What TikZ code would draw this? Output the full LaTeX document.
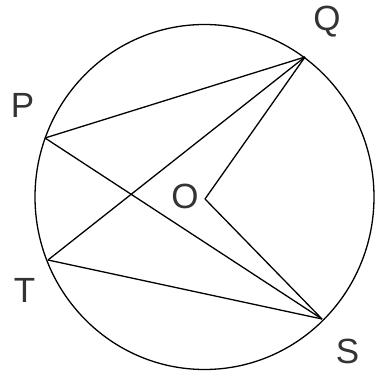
\documentclass[tikz,border=0pt]{standalone}
\usepackage{fontspec}
\setmainfont{Liberation Sans}
\begin{document}
\begin{tikzpicture}[x=1pt,y=-1pt,
  edge/.style={line width=1.3pt,black},
  lbl/.style={inner sep=0pt,text=black!80,font=\fontsize{35}{35}\selectfont}]
\useasboundingbox (0,0) rectangle (375,371);
\coordinate (C) at (204.5,197);
\coordinate (Q) at (305,57);
\coordinate (P) at (45,138);
\coordinate (T) at (48,260);
\coordinate (S) at (322,319);
\coordinate (O) at (205,199);
\draw[edge] (C) ellipse [x radius=169.5, y radius=172.5];
\draw[edge] (P) -- (Q);
\draw[edge] (P) -- (S);
\draw[edge] (T) -- (Q);
\draw[edge] (T) -- (S);
\draw[edge] (O) -- (Q);
\draw[edge] (O) -- (S);
\node[lbl] (lQ) at (327,21.5) {Q};
\node[lbl] (lP) at (22.5,105) {P};
\node[lbl] (lT) at (24.5,290) {T};
\node[lbl] (lS) at (347.5,351) {S};
\node[lbl] (lO) at (185,196) {O};
\end{tikzpicture}
\end{document}
